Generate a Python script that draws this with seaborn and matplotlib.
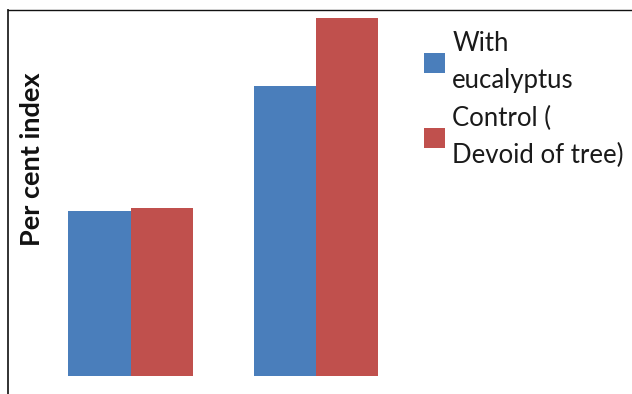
import matplotlib
matplotlib.use("Agg")
import matplotlib.pyplot as plt
import seaborn as sns
import pandas as pd

# ---- data ----
groups = ["Group 1", "Group 2"]
series = ["With\neucalyptus", "Control (\nDevoid of tree)"]
with_eucalyptus = [46, 81]
control = [47, 100]
colors = ["#4A7EBB", "#C0504D"]

df = pd.DataFrame({
    "group": groups * 2,
    "series": [series[0]] * len(groups) + [series[1]] * len(groups),
    "value": with_eucalyptus + control,
})

sns.set_theme(style="white")
plt.rcParams["font.family"] = ["Lato", "DejaVu Sans"]

W, H = 632, 394
fig = plt.figure(figsize=(W / 100, H / 100), dpi=100)
ax = fig.add_axes([8 / W, 0, 1 - 8 / W, 1 - 10 / H])

sns.barplot(data=df, x="group", y="value", hue="series", hue_order=series,
            palette=colors, saturation=1, width=0.67, ax=ax,
            edgecolor="none", legend=True)

# scale: value 0 at y=376 px, 100 at y=18 px
px_per_unit = (376 - 18) / 100
ax.set_ylim(-(H - 376) / px_per_unit, (376 - 10) / px_per_unit)
ax.set_xlim((8 - 130.5) / 185.5, (632 - 130.5) / 185.5)

ax.set_xticks([])
ax.set_yticks([])
ax.set_xlabel("")
for s in ["right", "bottom"]:
    ax.spines[s].set_visible(False)
ax.spines["left"].set_color("#222222")
ax.spines["left"].set_linewidth(1.3)
ax.spines["top"].set_color("#111111")
ax.spines["top"].set_linewidth(1.0)

ax.set_ylabel("Per cent index", fontsize=19.5, fontweight="bold", color="#111111")
ax.yaxis.set_label_coords(44 / W, 1 - 159 / H, transform=fig.transFigure)

handles, labels = ax.get_legend_handles_labels()
ax.get_legend().remove()
fs = 18.5
leg = fig.legend(handles, labels, loc="upper left",
                 bbox_to_anchor=(424 / W, 1 - 31 / H),
                 frameon=False, fontsize=fs, borderpad=0, borderaxespad=0,
                 handlelength=0.82, handleheight=0.78, handletextpad=0.28,
                 labelspacing=0.5)
for t in leg.get_texts():
    t.set_linespacing(1.6)
    t.set_color("#1a1a1a")

fig.savefig("out.png", dpi=100)
